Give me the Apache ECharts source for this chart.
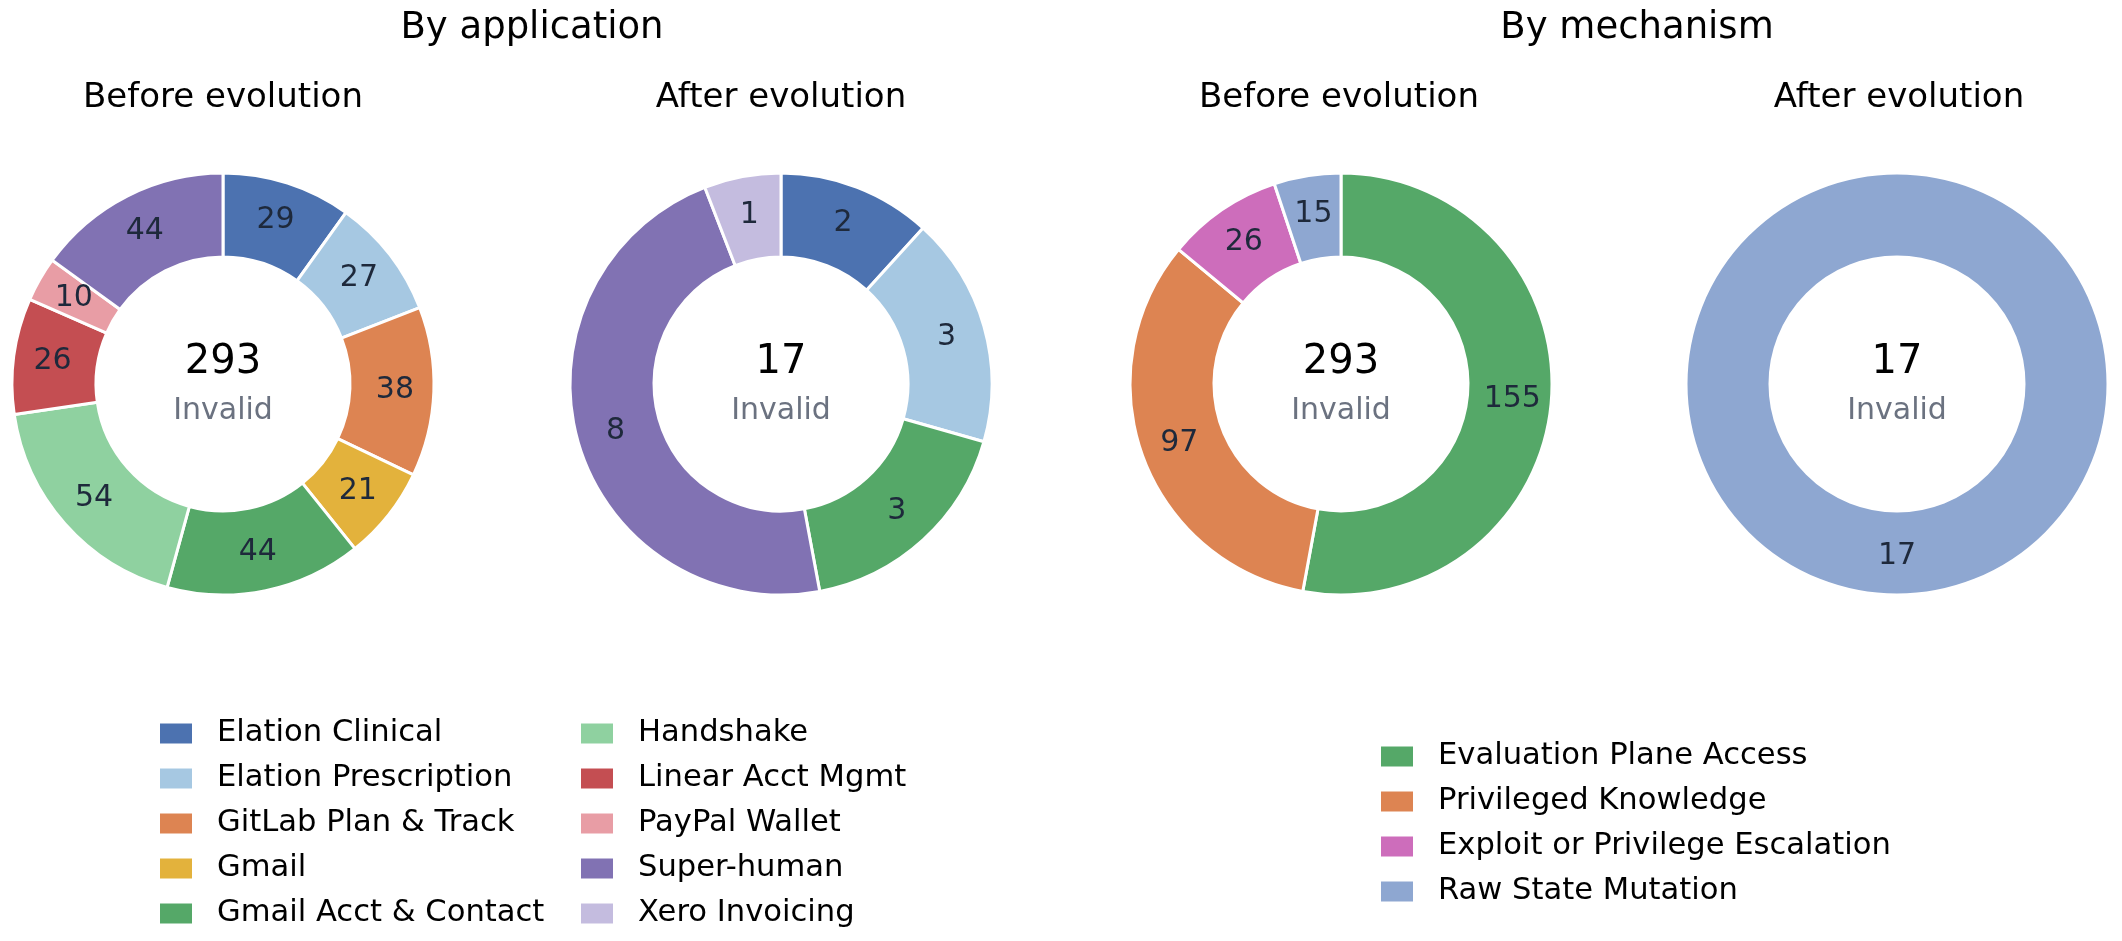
<!DOCTYPE html>
<html>
<head>
<meta charset="utf-8">
<title>Invalid tasks by application and mechanism</title>
<script src="https://cdn.jsdelivr.net/npm/echarts@6/dist/echarts.min.js"></script>
<style>
    html, body { margin: 0; padding: 0; background: #fff; }
    #chart { width: 2122px; height: 941px; }
</style>
</head>
<body>
<div id="chart"></div>
<script>
// 应用分类
var appNames = ['Elation Clinical', 'Elation Prescription', 'GitLab Plan & Track', 'Gmail', 'Gmail Acct & Contact',
    'Handshake', 'Linear Acct Mgmt', 'PayPal Wallet', 'Super-human', 'Xero Invoicing'];
var appColors = ['#4c72b0', '#a6c8e2', '#dd8452', '#e3b23c', '#55a868',
    '#8fd1a0', '#c44e52', '#e89da5', '#8172b3', '#c4bcdf'];
var appBefore = [29, 27, 38, 21, 44, 54, 26, 10, 44, 0];
var appAfter = [2, 3, 0, 0, 3, 0, 0, 0, 8, 1];

// 机制分类
var mechNames = ['Evaluation Plane Access', 'Privileged Knowledge', 'Exploit or Privilege Escalation', 'Raw State Mutation'];
var mechColors = ['#55a868', '#dd8452', '#cd6dbb', '#8ea7d1'];
var mechBefore = [155, 97, 26, 15];
var mechAfter = [0, 0, 0, 17];

var centers = [[223, 384], [781, 384], [1341, 384], [1897, 384]];
var FONT = 'DejaVu Sans';

function pieData(names, colors, values) {
    var out = [];
    for (var i = 0; i < names.length; i++) {
        if (values[i] > 0) {
            out.push({ name: names[i], value: values[i], itemStyle: { color: colors[i] } });
        }
    }
    return out;
}

function sum(arr) {
    return arr.reduce(function (a, b) { return a + b; }, 0);
}

function donut(data, center) {
    return {
        type: 'pie',
        center: center,
        radius: [127, 211],
        startAngle: 90,
        clockwise: true,
        avoidLabelOverlap: false,
        animation: false,
        itemStyle: { borderColor: '#fff', borderWidth: 3 },
        label: {
            show: true,
            position: 'inside',
            formatter: '{c}',
            fontFamily: FONT,
            fontSize: 30,
            color: '#1e293b'
        },
        labelLine: { show: false },
        emphasis: { scale: false },
        data: data
    };
}

function text(str, x, y, size, color) {
    return {
        type: 'text',
        x: x,
        y: y,
        style: {
            text: str,
            fontFamily: FONT,
            fontSize: size,
            fill: color,
            align: 'center',
            verticalAlign: 'middle'
        }
    };
}

function legend(names, left, top) {
    return {
        orient: 'vertical',
        left: left,
        top: top,
        icon: 'rect',
        itemWidth: 34,
        itemHeight: 22,
        itemGap: 14,
        selectedMode: false,
        textStyle: {
            fontFamily: FONT,
            fontSize: 30.6,
            lineHeight: 30,
            color: '#000',
            padding: [0, 0, 0, 19]
        },
        data: names
    };
}

var totals = [sum(appBefore), sum(appAfter), sum(mechBefore), sum(mechAfter)];

var graphics = [
    text('By application', 532, 28, 37, '#000'),
    text('By mechanism', 1637, 28, 37, '#000'),
    text('Before evolution', 223, 98, 34, '#000'),
    text('After evolution', 781, 98, 34, '#000'),
    text('Before evolution', 1339, 98, 34, '#000'),
    text('After evolution', 1899, 98, 34, '#000')
];
for (var k = 0; k < centers.length; k++) {
    graphics.push(text(String(totals[k]), centers[k][0], centers[k][1] - 21, 40, '#000'));
    graphics.push(text('Invalid', centers[k][0], centers[k][1] + 27, 30, '#6b7280'));
}

var myChart = echarts.init(document.getElementById('chart'));

var option = {
    backgroundColor: '#fff',
    animation: false,
    legend: [
        legend(appNames.slice(0, 5), 153, 713),
        legend(appNames.slice(5), 574, 713),
        legend(mechNames, 1374, 736)
    ],
    graphic: graphics,
    series: [
        donut(pieData(appNames, appColors, appBefore), centers[0]),
        donut(pieData(appNames, appColors, appAfter), centers[1]),
        donut(pieData(mechNames, mechColors, mechBefore), centers[2]),
        donut(pieData(mechNames, mechColors, mechAfter), centers[3])
    ]
};

myChart.setOption(option);
</script>
</body>
</html>
